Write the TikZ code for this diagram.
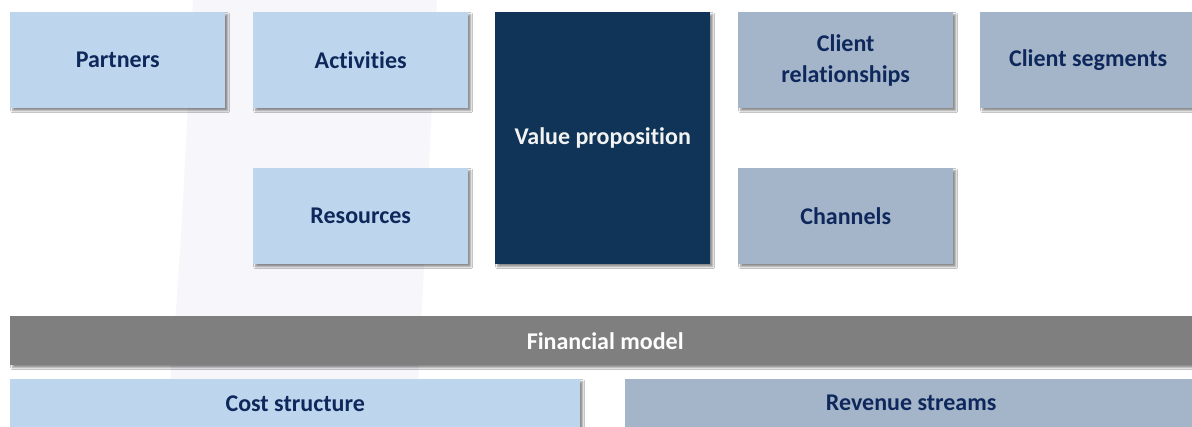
\documentclass[tikz,border=0pt]{standalone}
\usepackage{fontspec}
\setmainfont{Carlito}[Ligatures={NoCommon}]
\usetikzlibrary{shadows.blur}
\definecolor{lightblock}{HTML}{BED6ED}
\definecolor{greyblock}{HTML}{A4B5CA}
\definecolor{navyblock}{HTML}{0F3457}
\definecolor{barfill}{HTML}{7F7F7F}
\definecolor{labelnavy}{HTML}{0E285C}
\definecolor{backdrop}{HTML}{F6F6FB}
\begin{document}
\begin{tikzpicture}[x=1pt,y=-1pt,
  block/.style={anchor=north west, inner sep=0pt, align=center,
    font=\fontsize{24}{31}\selectfont\bfseries, text=labelnavy,
    blur shadow={shadow xshift=2.5pt, shadow yshift=-2.5pt,
      shadow blur radius=2pt, shadow opacity=45}},
  lightbox/.style={block, fill=lightblock, minimum width=215pt, minimum height=96pt},
  greybox/.style={block, fill=greyblock, minimum width=215pt, minimum height=96pt},
]
\useasboundingbox (0,0) rectangle (1192,427);
\fill[white] (0,0) rectangle (1192,427);
% faint slanted backdrop band
\fill[backdrop] (193,0) .. controls (186,140) and (180,300) .. (165,427)
  -- (416,427) -- (437,0) -- cycle;

% top rows
\node[lightbox] (partners)   at (10,12)  {Partners};
\node[lightbox] (activities) at (253,12) {Activities};
\node[lightbox] (resources)  at (253,168) {Resources};
\node[block, fill=navyblock, text=white!95!black, minimum width=215pt,
      minimum height=252pt] (value) at (495,12) {Value proposition};
\node[greybox] (relations) at (738,12)
  {\raisebox{-3pt}{Client}\\\raisebox{-3pt}{relationships}};
\node[greybox, minimum width=222pt] (segments) at (980,12)
  {\hspace*{-6pt}Client segments};
\node[greybox] (channels) at (738,168) {Channels};

% financial rows
\node[block, fill=barfill, text=white, minimum width=1190pt,
      minimum height=49pt] (finance) at (10,316) {Financial model};
\node[block, fill=lightblock, minimum width=570pt, minimum height=60pt,
      font=\fontsize{24}{28}\selectfont\bfseries] (cost) at (10,379)
  {\raisebox{12pt}{Cost structure}};
\node[block, fill=greyblock, minimum width=580pt, minimum height=60pt,
      font=\fontsize{24}{28}\selectfont\bfseries] (revenue) at (625,379)
  {\raisebox{12pt}{\hspace*{-8pt}Revenue streams}};
\end{tikzpicture}
\end{document}
